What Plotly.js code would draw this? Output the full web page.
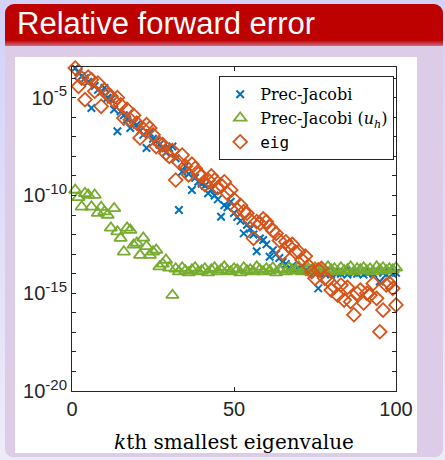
<!DOCTYPE html>
<html><head><meta charset="utf-8">
<script src="https://cdn.plot.ly/plotly-3.0.1.min.js"></script>
<style>
html,body{margin:0;padding:0;width:445px;height:460px;overflow:hidden;}
body{background:linear-gradient(to bottom,#d2d2f8,#ececf9);position:relative;font-family:'Liberation Sans',Arial,sans-serif;}
#hdr{position:absolute;left:5px;top:4px;width:438px;height:42px;border-radius:9px 9px 0 0;background:linear-gradient(to bottom,#bd0000 0%,#bd0000 86%,#cf6a7e 100%);color:#fff;font-size:31px;line-height:40px;padding-left:12px;box-sizing:border-box;}
#blk{position:absolute;left:5px;top:46px;width:438px;height:411px;background:#dccce7;border-radius:0 0 8px 8px;}
#fig{position:absolute;left:15px;top:57px;width:402px;height:396px;background:#fff;}
#plot{position:absolute;left:0;top:0;width:445px;height:460px;}
</style></head>
<body>
<div id="hdr">Relative forward error</div>
<div id="blk"></div>
<div id="fig"></div>
<div id="plot"></div>
<script>
// eigenvalue index k
const kIndex = [1,2,3,4,5,6,7,8,9,10,11,12,13,14,15,16,17,18,19,20,21,22,23,24,25,26,27,28,29,30,31,32,33,34,35,36,37,38,39,40,41,42,43,44,45,46,47,48,49,50,51,52,53,54,55,56,57,58,59,60,61,62,63,64,65,66,67,68,69,70,71,72,73,74,75,76,77,78,79,80,81,82,83,84,85,86,87,88,89,90,91,92,93,94,95,96,97,98,99,100];

// log10 of relative forward error
const precJacobiLog10 = [-3.48,-3.7,-3.9,-4.0,-4.2,-5.53,-4.4,-4.6,-4.7,-4.5,
-5.0,-5.1,-5.6,-6.72,-5.7,-5.9,-6.1,-6.55,-6.3,-6.38,
-6.7,-6.9,-7.57,-6.8,-7.1,-7.23,-7.4,-7.6,-7.8,-7.57,
-7.5,-8.1,-10.74,-8.79,-8.5,-8.9,-9.72,-9.1,-9.3,-9.4,
-9.5,-9.89,-9.7,-10.0,-10.2,-11.09,-10.5,-10.6,-10.32,-10.9,
-11.1,-11.3,-11.94,-11.5,-11.7,-12.0,-12.85,-12.2,-12.28,-12.5,
-13.13,-12.8,-13.0,-13.2,-13.4,-13.5,-13.7,-13.6,-13.8,-13.75,
-13.8,-13.85,-13.9,-13.8,-14.0,-14.75,
-13.95,-14.0,-13.85,-14.05,-13.9,-13.95,-14.0,-13.9,-14.05,-13.85,
-13.95,-14.0,-13.9,-14.05,-13.95,-13.9,-14.0,-13.85,-14.4,-13.95,-14.05,-13.9,-14.0,-13.95];

const precJacobiUhLog10 = [-9.72,-10.1,-10.58,-9.89,-9.98,-10.58,-9.98,-10.9,-10.6,-10.83,
-11.0,-11.66,-10.66,-11.85,-12.18,-12.88,-11.66,-11.77,-12.53,-12.43,
-13.05,-12.17,-12.6,-13.05,-12.88,-12.79,-13.64,-13.5,-13.3,-13.7,-15.1,
-13.75,-13.9,-13.7,-13.85,-13.95,-13.8,-13.7,-13.9,-13.85,-13.75,
-13.95,-13.8,-13.7,-13.9,-13.8,-13.65,-13.85,-13.9,-13.75,-13.8,
-13.95,-13.7,-13.85,-13.8,-13.9,-13.65,-13.8,-13.9,-13.75,-13.85,
-13.7,-13.95,-13.8,-13.75,-13.9,-13.7,-13.85,-13.8,-13.65,-13.9,
-13.8,-13.75,-13.95,-13.7,-13.85,-13.8,-13.9,-13.65,-13.8,-13.75,
-13.9,-13.7,-13.85,-13.8,-13.65,-13.9,-13.75,-13.8,-13.7,-13.85,
-13.75,-13.9,-13.65,-13.8,-13.7,-13.85,-13.75,-13.8,-13.7];

const eigLog10 = [-3.48,-4.42,-4.0,-5.1,-3.95,-4.08,-4.67,-4.25,-5.44,-4.6,
-4.85,-4.93,-5.17,-5.0,-5.36,-6.04,-5.6,-6.13,-5.9,-6.3,
-7.06,-6.6,-6.38,-6.55,-6.9,-7.5,-7.33,-7.4,-7.85,-8.0,
-7.7,-9.21,-8.3,-7.93,-8.5,-8.95,-8.4,-8.61,-8.9,-9.0,
-9.45,-9.21,-9.0,-9.21,-9.6,-9.47,-9.3,-9.9,-9.72,-10.2,
-10.74,-10.5,-10.83,-10.91,-11.26,-12.19,-11.34,-11.43,-11.2,-11.34,
-11.6,-11.8,-11.94,-12.3,-12.96,-12.37,-12.6,-12.5,-12.9,-12.88,
-13.3,-13.1,-13.6,-13.9,-14.24,-13.81,-13.73,-14.24,-14.32,-14.84,
-14.67,-15.1,-14.58,-15.35,-14.7,-15.43,-16.1,-15.0,-14.84,-15.5,
-15.0,-15.1,-14.5,-15.26,-16.97,-15.86,-14.58,-14.5,-14.75,-15.6];

const seriesNames = ['Prec-Jacobi', 'Prec-Jacobi (<i>u</i><sub><i>h</i></sub>)', '<span style="font-family:\'DejaVu Sans Mono\',monospace">eig</span>'];
const yTickExponents = [-20,-19,-18,-17,-16,-15,-14,-13,-12,-11,-10,-9,-8,-7,-6,-5,-4];
const xTickVals = [0,50,100];

const toVal = a => a.map(e => Math.pow(10, e));
const axColor = '#262626';
const serif = 'DejaVu Serif, serif';
const sans = 'Liberation Sans, Arial, sans-serif';

const traces = [
 {x:kIndex, y:toVal(precJacobiLog10), name:seriesNames[0], type:'scatter', mode:'markers', cliponaxis:false,
  marker:{symbol:'x-thin-open', size:7.5, color:'#0072BD', line:{color:'#0072BD', width:2}}},
 {x:kIndex, y:toVal(precJacobiUhLog10), name:seriesNames[1], type:'scatter', mode:'markers', cliponaxis:false,
  marker:{symbol:'triangle-up-open', size:11, color:'#77AC30', line:{color:'#77AC30', width:1.8}}},
 {x:kIndex, y:toVal(eigLog10), name:seriesNames[2], type:'scatter', mode:'markers', cliponaxis:false,
  marker:{symbol:'diamond-open', size:10.5, color:'#D95319', line:{color:'#D95319', width:1.8}}}
];

const layout = {
 width:445, height:460,
 margin:{l:72, r:49, t:67, b:69},
 paper_bgcolor:'rgba(0,0,0,0)', plot_bgcolor:'#ffffff',
 showlegend:true,
 legend:{x:0.9938, xanchor:'right', y:0.972, yanchor:'top', bgcolor:'#ffffff', bordercolor:axColor, borderwidth:1.2,
   font:{family:serif, size:16, color:'#000'}, itemwidth:30, entrywidth:150},
 xaxis:{range:[0,100], tickvals:xTickVals, ticktext:xTickVals.map(String), ticks:'inside', ticklen:4, tickcolor:axColor,
   showline:true, linecolor:axColor, linewidth:1, mirror:'ticks', showgrid:false, zeroline:false,
   tickfont:{family:sans, size:20, color:axColor},
   title:{text:'<i>k</i>th smallest eigenvalue', font:{family:serif, size:20, color:'#000'}, standoff:15}},
 yaxis:{type:'log', range:[-20,-3.43], tickvals:yTickExponents.map(e=>Math.pow(10,e)),
   ticktext:yTickExponents.map(e => (e % 5 === 0) ? '10<sup><span style="font-size:15px">'+e+'</span></sup>' : ''),
   ticks:'inside', ticklen:4, tickcolor:axColor, showline:true, linecolor:axColor, linewidth:1, mirror:'ticks',
   showgrid:false, zeroline:false,
   tickfont:{family:sans, size:20, color:axColor}}
};

Plotly.newPlot('plot', traces, layout, {displayModeBar:false, staticPlot:true});
</script>
</body></html>
